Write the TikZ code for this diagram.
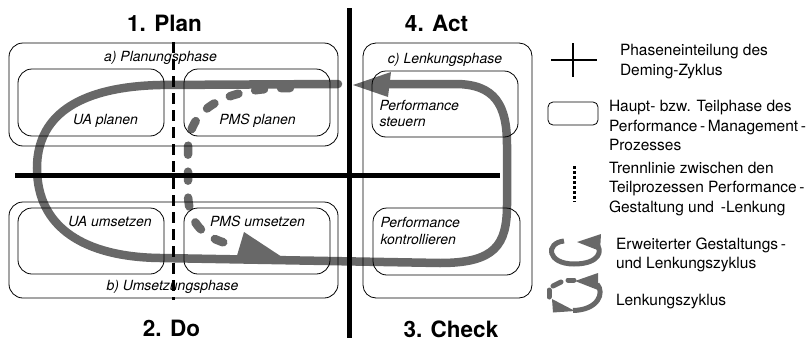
\documentclass[tikz,border=0pt]{standalone}
\usepackage{fontspec}
\setmainfont{TeX Gyre Heros}
\begin{document}
\begin{tikzpicture}[x=1pt,y=-1pt,
  every node/.style={inner sep=0pt, outer sep=0pt},
  box/.style={draw=black, line width=0.8pt, rounded corners=14pt},
  boxlabel/.style={font=\fontsize{14}{16.5}\selectfont\itshape, anchor=base},
  steplabel/.style={font=\fontsize{14}{16.5}\selectfont\itshape, anchor=base west, align=left},
  title/.style={font=\fontsize{22.5}{24}\selectfont\bfseries, anchor=base},
  legtext/.style={font=\fontsize{15.5}{19.5}\selectfont, anchor=base west, align=left},
  cycleline/.style={draw=loopgrey, line width=8.5pt},
  cycledash/.style={draw=loopgrey, line width=8.5pt, line cap=round, dash pattern=on 9pt off 17pt},
  phaseline/.style={draw=black, line width=4.5pt},
  sepline/.style={draw=black, line width=3pt, dash pattern=on 11pt off 6pt},
  iconline/.style={draw=loopgrey, line width=5pt},
  arrowfill/.style={fill=loopgrey, draw=none}
]
\definecolor{loopgrey}{RGB}{104,104,104}
\useasboundingbox (0,0) rectangle (806,343);

% ---------- grey cycles ----------
\coordinate (bigstart) at (338,84);
\coordinate (bigend) at (388,84);
\draw[cycleline, line cap=round] (bigstart) -- (160,85)
  .. controls (75,87) and (37,118) .. (37,168)
  .. controls (37,228) and (85,257) .. (160,258)
  -- (440,263) .. controls (495,263) and (507,245) .. (507,205)
  -- (507,145) .. controls (507,105) and (495,84) .. (455,84) -- (bigend);
\coordinate (toptip) at (353,85);
\fill[arrowfill] (toptip) -- (391,72) -- (388,97) -- cycle;

\coordinate (dashstart) at (290,88);
\coordinate (dashend) at (238,246);
\draw[cycledash] (dashstart) .. controls (225,88) and (188,108) .. (188,150)
  -- (188,195) .. controls (189,225) and (205,240) .. (dashend);
\fill[arrowfill] (244,232) -- (236,259) -- (285,259) -- cycle;

% ---------- boxes ----------
\node[box, minimum width=329, minimum height=103] (plan) at (173.5,94.5) {};
\node[box, minimum width=329, minimum height=96] (umsetz) at (173.5,250) {};
\node[box, minimum width=169, minimum height=255, rounded corners=13pt] (lenk) at (447.5,170.5) {};
\node[box, minimum width=146, minimum height=67] (uap) at (91,102.5) {};
\node[box, minimum width=146, minimum height=67] (pmsp) at (257,102.5) {};
\node[box, minimum width=146, minimum height=66] (uau) at (91,241) {};
\node[box, minimum width=146, minimum height=66] (pmsu) at (257,241) {};
\node[box, minimum width=146, minimum height=66] (steu) at (445,104) {};
\node[box, minimum width=147, minimum height=67] (kontr) at (446.5,241.5) {};

% ---------- Deming lines ----------
\coordinate (vtop) at (349.5,8);
\coordinate (vbot) at (349.5,338);
\coordinate (hleft) at (15,175.5);
\coordinate (hright) at (500,175.5);
\draw[phaseline] (vtop) -- (vbot);
\draw[phaseline] (hleft) -- (hright);
\coordinate (stop) at (173,42);
\coordinate (sbot) at (173,300);
\draw[sepline] (stop) -- (sbot);

% ---------- texts ----------
\node[title] (t1) at (164.5,31) {1. Plan};
\node[title] (t4) at (436.5,31.5) {4. Act};
\node[title] (t2) at (171.5,336) {2. Do};
\node[title] (t3) at (451,337.5) {3. Check};

\node[boxlabel] (la) at (160.5,61) {a) Planungsphase};
\node[boxlabel] (lb) at (172.5,290.5) {b) Umsetzungsphase};
\node[boxlabel] (lc) at (445,63) {c) Lenkungsphase};
\node[boxlabel] (l1) at (105.5,124) {UA planen};
\node[boxlabel] (l2) at (257.5,124) {PMS planen};
\node[boxlabel] (l3) at (110,226) {UA umsetzen};
\node[boxlabel] (l4) at (257.5,226) {PMS umsetzen};
\node[steplabel] (l5) at (379.5,126.5) {Performance\\steuern};
\node[steplabel] (l6) at (380.5,244) {Performance\\kontrollieren};

% ---------- legend ----------
\coordinate (cl) at (551,60); \coordinate (cr) at (597,60);
\coordinate (ct) at (573,43); \coordinate (cb) at (573,77);
\draw[draw=black, line width=2pt] (cl) -- (cr) (ct) -- (cb);
\node[legtext] (g1) at (620,75) {Phaseneinteilung des\\Deming-Zyklus};

\node[box, minimum width=50, minimum height=23, rounded corners=5pt] (gbox) at (573,113.5) {};
\node[legtext] (g2) at (609,150.5) {Haupt- bzw. Teilphase des\\Performance\thinspace-\thinspace Management\thinspace-\\Prozesses};

\coordinate (dt) at (574,166); \coordinate (db) at (574,202);
\draw[draw=black, line width=3pt, dash pattern=on 2.6pt off 2.4pt] (dt) -- (db);
\node[legtext] (g3) at (609,212) {Trennlinie zwischen den\\Teilprozessen Performance\thinspace-\\Gestaltung und\thinspace\ -Lenkung};

\coordinate (ls) at (564,241);
\coordinate (le) at (596,244);
\draw[iconline] (ls) .. controls (545,243) and (547,264) .. (574,264)
  .. controls (600,264) and (603,250) .. (le);
\fill[arrowfill] (577,242) -- (601,234) -- (600,251) -- cycle;
\node[legtext] (g4) at (616,268.5) {Erweiterter Gestaltungs\thinspace-\\und Lenkungszyklus};

\draw[iconline, line cap=round] (553,286) -- (561,282);
\draw[iconline, line cap=round] (568,280) -- (574,280);
\draw[iconline, line cap=round] (549,290) -- (549,297);
\fill[arrowfill] (552,299) -- (553,312.5) -- (575,311) -- cycle;
\coordinate (ds) at (573,310.5);
\coordinate (de) at (597,284);
\draw[iconline] (ds) .. controls (598,310) and (605,293) .. (de);
\fill[arrowfill] (575,281) -- (598,273) -- (598,290) -- cycle;
\node[legtext] (g5) at (616,305.5) {Lenkungszyklus};
\end{tikzpicture}
\end{document}
